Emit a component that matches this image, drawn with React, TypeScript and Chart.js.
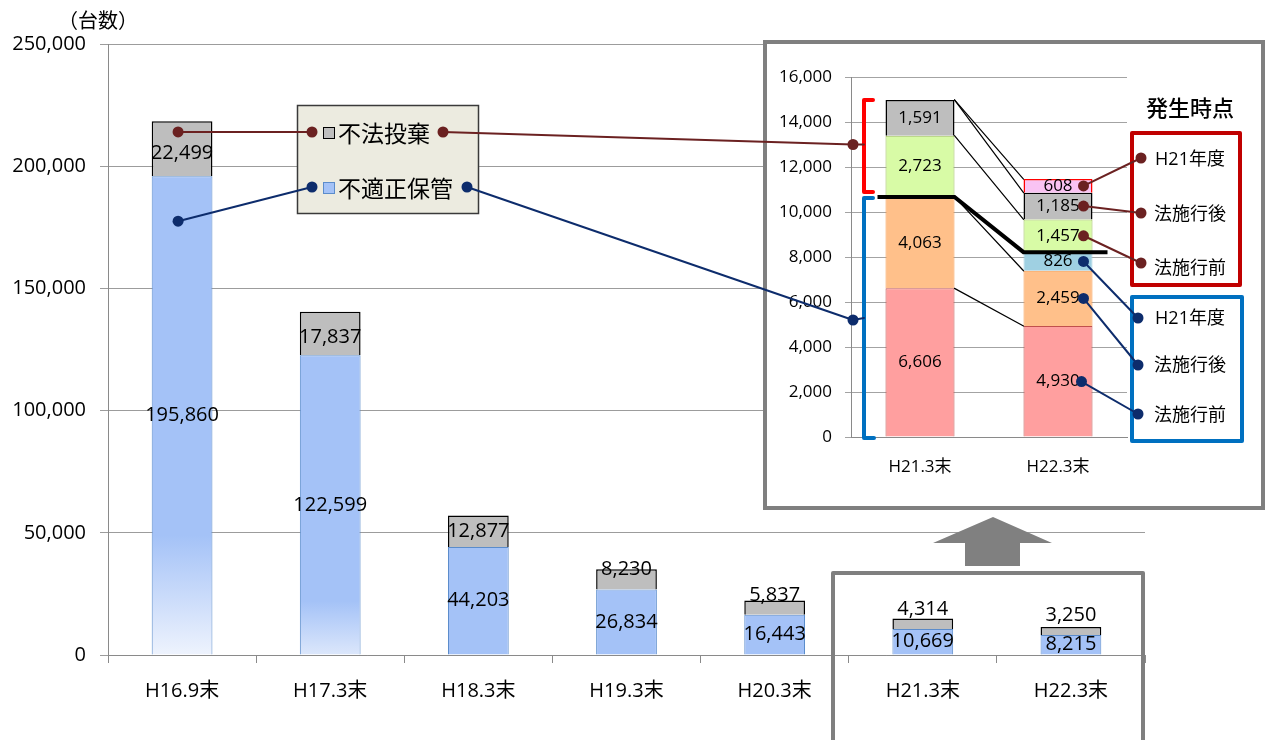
import React, { useEffect, useRef } from "react";
import { Chart, registerables } from "chart.js";
Chart.register(...registerables);

const FONT = "'Open Sans', 'Noto Sans CJK JP', sans-serif";
const JP = "'Noto Sans CJK JP', 'Open Sans', sans-serif";

// ---- main chart data ----
const categories = ["H16.9末", "H17.3末", "H18.3末", "H19.3末", "H20.3末", "H21.3末", "H22.3末"];
const improperStorage = [195860, 122599, 44203, 26834, 16443, 10669, 8215];
const illegalDumping = [22499, 17837, 12877, 8230, 5837, 4314, 3250];
const mainMax = 250000;
const mainStep = 50000;

// ---- inset chart data ----
const insetCategories = ["H21.3末", "H22.3末"];
const storageBeforeLaw = [6606, 4930];
const storageAfterLaw = [4063, 2459];
const storageH21 = [null, 826];
const dumpingBeforeLaw = [2723, 1457];
const dumpingAfterLaw = [1591, 1185];
const dumpingH21 = [null, 608];
const insetMax = 16000;
const insetStep = 2000;

// ---- texts ----
const legendLabels = ["不法投棄", "不適正保管"];
const originLabels = ["H21年度", "法施行後", "法施行前"];
const unitLabel = "（台数）";
const originTitle = "発生時点";

// annotation anchor values
const mainAnchorDumping = 214000;
const mainAnchorStorage = 177500;
const insetAnchorDumping = 13000;
const insetAnchorStorage = 5200;

// ---- styles ----
const BLUE = "#A4C2F7";
const BLUE_BORDER = "#5B8CCB";
const GRAY = "#BEBEBE";
const MAROON = "#6B2121";
const NAVY = "#0D2C6C";
const FADE: Record<number, [number, string]> = { 0: [0.75, "#EEF3FD"], 1: [0.82, "#DCE7FB"] };

const fmt = (v: number) => Number(v).toLocaleString("en-US");

const insetStacks = [storageBeforeLaw, storageAfterLaw, storageH21, dumpingBeforeLaw, dumpingAfterLaw, dumpingH21];
const cum = (i: number, n: number) => {
  let s = 0;
  for (let k = 0; k < n; k++) s += (insetStacks[k][i] as number) || 0;
  return s;
};

function dot(ctx: CanvasRenderingContext2D, x: number, y: number, color: string) {
  ctx.beginPath();
  ctx.fillStyle = color;
  ctx.arc(x, y, 5.5, 0, Math.PI * 2);
  ctx.fill();
}
function line(ctx: CanvasRenderingContext2D, pts: number[][], color: string, w = 2) {
  ctx.beginPath();
  ctx.strokeStyle = color;
  ctx.lineWidth = w;
  ctx.lineJoin = "round";
  ctx.lineCap = "round";
  ctx.moveTo(pts[0][0], pts[0][1]);
  for (let i = 1; i < pts.length; i++) ctx.lineTo(pts[i][0], pts[i][1]);
  ctx.stroke();
}

export default function App() {
  const mainCanvas = useRef<HTMLCanvasElement>(null);
  const insetCanvas = useRef<HTMLCanvasElement>(null);
  const mainRef = useRef<Chart | null>(null);

  useEffect(() => {
    const mainLabels = {
      id: "mainLabels",
      afterDatasetsDraw(chart: any) {
        const ctx = chart.ctx;
        ctx.save();
        ctx.font = `20px ${FONT}`;
        ctx.fillStyle = "#000";
        ctx.textAlign = "center";
        ctx.textBaseline = "middle";
        chart.data.datasets.forEach((ds: any, di: number) => {
          const meta = chart.getDatasetMeta(di);
          meta.data.forEach((el: any, i: number) => {
            const v = ds.data[i];
            if (v == null) return;
            const { x, y, base } = el.getProps(["x", "y", "base"], true);
            const h = base - y;
            let ly = (y + base) / 2;
            if (di === 1 && h < 28) ly = base - 20;
            if (di === 1 && h >= 28 && h < 60) ly = (y + base) / 2;
            if (di === 1 && h >= 40) ly = (y + base) / 2 + 4;
            ctx.fillText(fmt(v), x, ly);
          });
        });
        ctx.font = `20px ${JP}`;
        ctx.fillText(unitLabel, 98, 20);
        ctx.restore();
      },
    };

    const main = new Chart(mainCanvas.current!, {
      type: "bar",
      data: {
        labels: categories,
        datasets: [
          {
            label: legendLabels[1],
            data: improperStorage,
            backgroundColor: (c: any) => {
              const f = FADE[c.dataIndex];
              if (!f || c.type !== "data") return BLUE;
              const ys = c.chart.scales && c.chart.scales.y;
              if (!ys) return BLUE;
              const top = ys.getPixelForValue(c.raw);
              const bottom = ys.getPixelForValue(0);
              if (!isFinite(top) || !isFinite(bottom) || bottom <= top) return BLUE;
              const g = c.chart.ctx.createLinearGradient(0, top, 0, bottom);
              g.addColorStop(0, BLUE);
              g.addColorStop(f[0], BLUE);
              g.addColorStop(1, f[1]);
              return g;
            },
            borderColor: BLUE_BORDER,
            borderWidth: 1,
            barPercentage: 0.41,
            categoryPercentage: 1,
          },
          {
            label: legendLabels[0],
            data: illegalDumping,
            backgroundColor: GRAY,
            borderColor: "#000",
            borderWidth: 1.5,
            barPercentage: 0.41,
            categoryPercentage: 1,
          },
        ],
      },
      options: {
        animation: false,
        responsive: false,
        maintainAspectRatio: false,
        layout: { padding: { left: 0, right: 121, top: 44, bottom: 0 } },
        plugins: { legend: { display: false }, tooltip: { enabled: false } },
        scales: {
          x: {
            stacked: true,
            grid: { drawOnChartArea: false, drawTicks: true, tickLength: 8, color: "#8A8A8A" },
            border: { color: "#8A8A8A" },
            ticks: { font: { family: FONT, size: 20 }, color: "#000", padding: 16, maxRotation: 0 },
            afterFit(s: any) {
              s.height = 85;
            },
          },
          y: {
            stacked: true,
            min: 0,
            max: mainMax,
            ticks: {
              stepSize: mainStep,
              callback: (v: any) => fmt(v),
              font: { family: FONT, size: 20 },
              color: "#000",
              padding: 14,
            },
            grid: { color: "#9C9C9C", tickLength: 8 },
            border: { color: "#8A8A8A" },
            afterFit(s: any) {
              s.width = 108;
            },
          },
        },
      },
      plugins: [mainLabels],
    } as any);
    mainRef.current = main;

    const insetPlugin = {
      id: "insetPlugin",
      beforeDraw(chart: any) {
        const ctx = chart.ctx;
        ctx.save();
        ctx.fillStyle = "#fff";
        ctx.fillRect(765, 42, 498, 466);
        ctx.strokeStyle = "#7F7F7F";
        ctx.lineWidth = 4;
        ctx.strokeRect(765, 42, 498, 466);
        ctx.restore();
      },
      afterDatasetsDraw(chart: any) {
        const ctx = chart.ctx;
        const xs = chart.scales.x;
        const ys = chart.scales.y;
        const w = chart.getDatasetMeta(0).data[0].width;
        const l0 = xs.getPixelForValue(0) - w / 2;
        const r0 = l0 + w;
        const l1 = xs.getPixelForValue(1) - w / 2;
        const r1 = l1 + w;
        ctx.save();
        // thin links
        const links = [
          [1, 1],
          [2, 2],
          [4, 4],
          [6, 5],
          [6, 6],
        ];
        links.forEach(([a, b]) => {
          line(ctx, [
            [r0, ys.getPixelForValue(cum(0, a))],
            [l1, ys.getPixelForValue(cum(1, b))],
          ], "#000", 1.2);
        });
        // thick line at storage totals
        const ya = ys.getPixelForValue(cum(0, 3));
        const yb = ys.getPixelForValue(cum(1, 3));
        ctx.beginPath();
        ctx.strokeStyle = "#000";
        ctx.lineWidth = 4;
        ctx.lineJoin = "miter";
        ctx.lineCap = "butt";
        ctx.moveTo(l0 - 8, ya);
        ctx.lineTo(r0, ya);
        ctx.lineTo(l1, yb);
        ctx.lineTo(r1 + 15, yb);
        ctx.stroke();

        // labels
        ctx.font = `17px ${FONT}`;
        ctx.fillStyle = "#000";
        ctx.textAlign = "center";
        ctx.textBaseline = "middle";
        chart.data.datasets.forEach((ds: any, di: number) => {
          const meta = chart.getDatasetMeta(di);
          meta.data.forEach((el: any, i: number) => {
            const v = ds.data[i];
            if (v == null) return;
            const { x, y, base } = el.getProps(["x", "y", "base"], true);
            ctx.fillText(fmt(v), x, (y + base) / 2);
          });
        });
        ctx.restore();
      },
      afterDraw(chart: any) {
        const m = mainRef.current as any;
        if (!m) return;
        const ctx = chart.ctx;
        const mx = m.scales.x;
        const my = m.scales.y;
        const ix = chart.scales.x;
        const iy = chart.scales.y;
        const w = chart.getDatasetMeta(0).data[0].width;
        const r1 = ix.getPixelForValue(1) + w / 2;
        ctx.save();

        // legend box
        ctx.fillStyle = "#ECEBE0";
        ctx.fillRect(297, 105, 182, 109);
        ctx.strokeStyle = "#3A3A3A";
        ctx.lineWidth = 1.5;
        ctx.strokeRect(297.5, 105.5, 181, 108);
        ctx.fillStyle = GRAY;
        ctx.fillRect(323, 127, 12, 12);
        ctx.strokeStyle = "#000";
        ctx.lineWidth = 1;
        ctx.strokeRect(323.5, 127.5, 11, 11);
        ctx.fillStyle = BLUE;
        ctx.fillRect(323, 182, 12, 12);
        ctx.strokeStyle = BLUE_BORDER;
        ctx.strokeRect(323.5, 182.5, 11, 11);
        ctx.fillStyle = "#000";
        ctx.font = `23px ${JP}`;
        ctx.textAlign = "left";
        ctx.textBaseline = "middle";
        ctx.fillText(legendLabels[0], 338, 133);
        ctx.fillText(legendLabels[1], 338, 188);

        // connectors main -> legend -> inset
        const cx0 = mx.getPixelForValue(0) - 4;
        const redA = [cx0, my.getPixelForValue(mainAnchorDumping)];
        const redEnd = [ix.left + 2, iy.getPixelForValue(insetAnchorDumping)];
        line(ctx, [redA, [312, 132]], MAROON);
        line(ctx, [[443, 132], redEnd], MAROON);
        [redA, [312, 132], [443, 132], redEnd].forEach((p) => dot(ctx, p[0], p[1], MAROON));
        const blueA = [cx0, my.getPixelForValue(mainAnchorStorage)];
        const blueEnd = [ix.left + 2, iy.getPixelForValue(insetAnchorStorage)];
        line(ctx, [blueA, [312, 187]], NAVY);
        line(ctx, [[467, 187], blueEnd], NAVY);
        [blueA, [312, 187], [467, 187], blueEnd].forEach((p) => dot(ctx, p[0], p[1], NAVY));

        // brackets
        const bx = ix.left + 13;
        const yTop = iy.getPixelForValue(cum(0, 6));
        const yMid = iy.getPixelForValue(cum(0, 3));
        const y0 = iy.getPixelForValue(0);
        line(ctx, [[bx + 9, yTop], [bx, yTop], [bx, yMid - 5], [bx + 9, yMid - 5]], "#FF0000", 4);
        line(ctx, [[bx + 9, yMid + 1], [bx, yMid + 1], [bx, y0 + 1], [bx + 10, y0 + 1]], "#0070C0", 4);
        line(ctx, [redEnd, [bx, redEnd[1]]], MAROON, 2);
        line(ctx, [blueEnd, [bx, blueEnd[1] - 2]], NAVY, 2);

        // origin title and boxes
        ctx.fillStyle = "#000";
        ctx.textAlign = "center";
        ctx.font = `500 22px ${JP}`;
        ctx.fillText(originTitle, 1190, 108);
        ctx.strokeStyle = "#C00000";
        ctx.lineWidth = 4;
        ctx.strokeRect(1132, 133, 108, 152);
        ctx.strokeStyle = "#0070C0";
        ctx.strokeRect(1132, 297, 110, 144);
        ctx.font = `18px ${FONT}`;
        ctx.fillStyle = "#000";
        const redRows = [160, 215, 269];
        const blueRows = [319, 366, 416];
        originLabels.forEach((t, k) => {
          ctx.fillText(t, 1190, redRows[k]);
          ctx.fillText(t, 1190, blueRows[k]);
        });

        // segment dots -> origin dots
        const segY = (k: number) => iy.getPixelForValue((cum(1, k) + cum(1, k + 1)) / 2);
        const sx = r1 - 9;
        const redSegs = [5, 4, 3];
        const redDots = [158, 213, 263];
        redSegs.forEach((k, j) => {
          const a = [sx, segY(k)];
          const b = [1141, redDots[j]];
          line(ctx, [a, b], MAROON, 2);
          dot(ctx, a[0], a[1], MAROON);
          dot(ctx, b[0], b[1], MAROON);
        });
        const blueSegs = [2, 1, 0];
        const blueDots = [318, 365, 414];
        blueSegs.forEach((k, j) => {
          const a = [sx - (k === 0 ? 2 : 0), segY(k)];
          const b = [1138, blueDots[j]];
          line(ctx, [a, b], NAVY, 2);
          dot(ctx, a[0], a[1], NAVY);
          dot(ctx, b[0], b[1], NAVY);
        });

        // arrow
        ctx.fillStyle = "#808080";
        ctx.beginPath();
        ctx.moveTo(993, 517);
        ctx.lineTo(1052, 543);
        ctx.lineTo(1020, 543);
        ctx.lineTo(1020, 566);
        ctx.lineTo(965, 566);
        ctx.lineTo(965, 543);
        ctx.lineTo(933, 543);
        ctx.closePath();
        ctx.fill();

        // bottom box
        ctx.strokeStyle = "#7F7F7F";
        ctx.lineWidth = 4;
        ctx.strokeRect(833, 573, 310, 180);
        ctx.restore();
      },
    };

    const mk = (label: string, data: any[], bg: string, bd: string, bw = 1) => ({
      label,
      data,
      backgroundColor: bg,
      borderColor: bd,
      borderWidth: bw,
      barPercentage: 0.5,
      categoryPercentage: 1,
    });

    const inset = new Chart(insetCanvas.current!, {
      type: "bar",
      data: {
        labels: insetCategories,
        datasets: [
          mk("不適正保管 法施行前", storageBeforeLaw, "#FF9F9F", "#C0504D"),
          mk("不適正保管 法施行後", storageAfterLaw, "#FFC08A", "#F79646"),
          mk("不適正保管 H21年度", storageH21, "#9FD0E2", "#9FD0E2"),
          mk("不法投棄 法施行前", dumpingBeforeLaw, "#D8FBA6", "#9BBB59"),
          mk("不法投棄 法施行後", dumpingAfterLaw, GRAY, "#000", 1.5),
          mk("不法投棄 H21年度", dumpingH21, "#F9C3F3", "#FF0000", 1.5),
        ],
      },
      options: {
        animation: false,
        responsive: false,
        maintainAspectRatio: false,
        layout: { padding: { left: 770, right: 139, top: 77, bottom: 0 } },
        plugins: { legend: { display: false }, tooltip: { enabled: false } },
        scales: {
          x: {
            stacked: true,
            grid: { drawOnChartArea: false, drawTicks: false },
            border: { color: "#8A8A8A" },
            ticks: { font: { family: FONT, size: 17 }, color: "#000", padding: 20, maxRotation: 0 },
            afterFit(s: any) {
              s.height = 303;
            },
          },
          y: {
            stacked: true,
            min: 0,
            max: insetMax,
            ticks: {
              stepSize: insetStep,
              callback: (v: any) => fmt(v),
              font: { family: FONT, size: 17 },
              color: "#000",
              padding: 13,
            },
            grid: { color: "#A3A3A3", tickLength: 6 },
            border: { color: "#8A8A8A" },
            afterFit(s: any) {
              s.width = 81;
            },
          },
        },
      },
      plugins: [insetPlugin],
    } as any);

    return () => {
      inset.destroy();
      main.destroy();
      mainRef.current = null;
    };
  }, []);

  const cs: React.CSSProperties = { position: "absolute", left: 0, top: 0, width: 1266, height: 740 };
  return (
    <div style={{ position: "absolute", left: 0, top: 0, width: 1266, height: 740, background: "#fff", overflow: "hidden" }}>
      <canvas ref={mainCanvas} width={1266} height={740} style={cs} />
      <canvas ref={insetCanvas} width={1266} height={740} style={cs} />
    </div>
  );
}
